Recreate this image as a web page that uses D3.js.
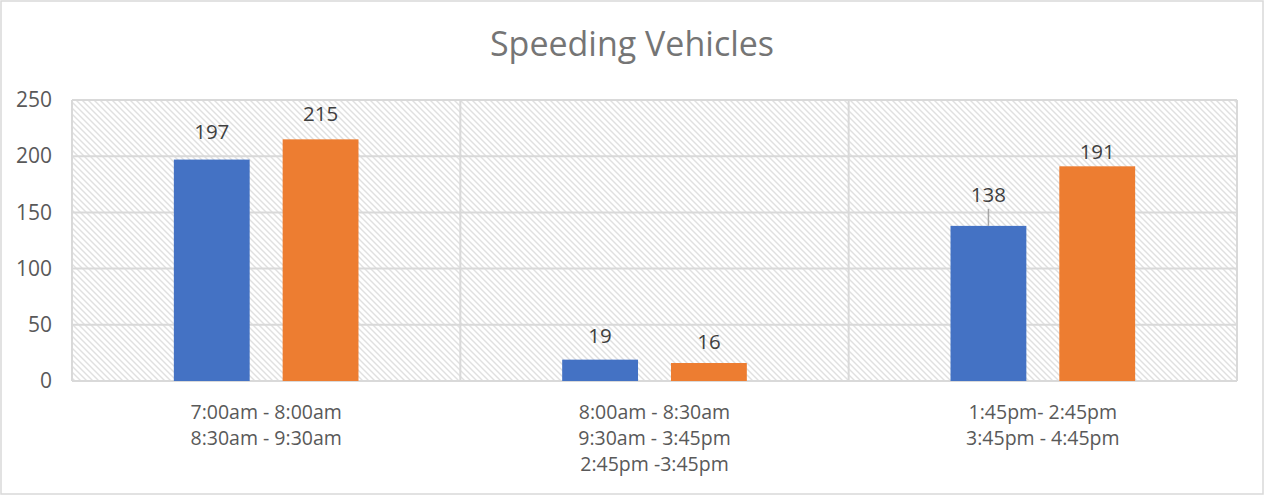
<!DOCTYPE html>
<html><head><meta charset="utf-8">
<script src="https://cdn.jsdelivr.net/npm/d3@7"></script>
<style>body{margin:0;background:#fff}svg{display:block}</style>
</head><body>
<svg id="chart" width="1264" height="495"></svg>
<script>
const title = "Speeding Vehicles";
const categories = [
  ["7:00am - 8:00am", "8:30am - 9:30am"],
  ["8:00am - 8:30am", "9:30am - 3:45pm", "2:45pm -3:45pm"],
  ["1:45pm- 2:45pm", "3:45pm - 4:45pm"]
];
const seriesA = [197, 19, 138];
const seriesB = [215, 16, 191];
const yTicks = [0, 50, 100, 150, 200, 250];
const labelLiftA = [28, 24, 31];
const labelLiftB = [26, 21, 14];

const W = 1264, H = 495;
const m = {l: 72, r: 27, t: 100, b: 114};
const FONT = "'Open Sans', sans-serif";
const svg = d3.select("#chart");
const defs = svg.append("defs");
const pat = defs.append("pattern").attr("id","hatch").attr("patternUnits","userSpaceOnUse")
  .attr("width",6).attr("height",6);
pat.append("rect").attr("width",6).attr("height",6).attr("fill","#fff");
pat.append("path").attr("d","M-1,-1 L7,7 M-1,5 L1,7 M5,-1 L7,1").attr("stroke","#e0e0e0").attr("stroke-width",1.4);

svg.append("rect").attr("x",1).attr("y",1).attr("width",W-2).attr("height",H-2)
  .attr("fill","#fff").attr("stroke","#d9d9d9").attr("stroke-width",1.5);

const x0 = d3.scaleBand().domain(d3.range(categories.length)).range([m.l, W-m.r]);
const x1 = d3.scaleBand().domain(["A","B"]).range([0, x0.bandwidth()]).paddingInner(0.303).paddingOuter(0.936);
const y = d3.scaleLinear().domain([0,250]).range([H-m.b, m.t]);

svg.append("rect").attr("x",m.l).attr("y",m.t).attr("width",W-m.r-m.l).attr("height",H-m.b-m.t).attr("fill","url(#hatch)");

svg.append("g").selectAll("line").data(yTicks).join("line")
  .attr("x1",m.l).attr("x2",W-m.r).attr("y1",d=>y(d)).attr("y2",d=>y(d))
  .attr("stroke","#d9d9d9").attr("stroke-width",2);
const bounds = d3.range(categories.length+1).map(i => i<categories.length ? x0(i) : x0(i-1)+x0.bandwidth());
svg.append("g").selectAll("line").data(bounds).join("line")
  .attr("x1",d=>d).attr("x2",d=>d).attr("y1",m.t).attr("y2",H-m.b)
  .attr("stroke","#d9d9d9").attr("stroke-width",2);

const yAxis = d3.axisLeft(y).tickValues(yTicks).tickSize(0).tickPadding(20);
const ya = svg.append("g").attr("transform",`translate(${m.l},0)`).call(yAxis);
ya.select(".domain").remove();
ya.selectAll("text").attr("font-family",FONT).attr("font-size",21).attr("fill","#595959");

const xg = svg.append("g");
categories.forEach((lines,i)=>{
  const cx = x0(i)+x0.bandwidth()/2;
  const t = xg.append("text").attr("x", cx).attr("y", 419)
    .attr("text-anchor","middle").attr("font-family",FONT).attr("font-size",19.5).attr("fill","#595959");
  lines.forEach((s,j)=>t.append("tspan").attr("x",cx).attr("dy", j===0?0:26).text(s));
});

const colors = {A:"#4472C4", B:"#ED7D31"};
const data = [];
categories.forEach((c,i)=>{
  data.push({i, k:"A", v:seriesA[i], lift:labelLiftA[i]});
  data.push({i, k:"B", v:seriesB[i], lift:labelLiftB[i]});
});
svg.append("g").selectAll("rect").data(data).join("rect")
  .attr("x",d=>x0(d.i)+x1(d.k)).attr("width",x1.bandwidth())
  .attr("y",d=>y(d.v)).attr("height",d=>y(0)-y(d.v)).attr("fill",d=>colors[d.k]);

const lead = data.filter(d=>d.lift>30);
svg.append("g").selectAll("line").data(lead).join("line")
  .attr("x1",d=>x0(d.i)+x1(d.k)+x1.bandwidth()/2).attr("x2",d=>x0(d.i)+x1(d.k)+x1.bandwidth()/2)
  .attr("y1",d=>y(d.v)).attr("y2",d=>y(d.v)-d.lift+14).attr("stroke","#a6a6a6").attr("stroke-width",1.5);

svg.append("g").selectAll("text").data(data).join("text")
  .attr("x",d=>x0(d.i)+x1(d.k)+x1.bandwidth()/2).attr("y",d=>y(d.v)-d.lift)
  .attr("dy","0.35em").attr("text-anchor","middle")
  .attr("font-family",FONT).attr("font-size",20.5).attr("fill","#404040")
  .text(d=>d.v);

svg.append("text").attr("x",W/2).attr("y",44).attr("dy","0.35em").attr("text-anchor","middle")
  .attr("font-family",FONT).attr("font-size",34).attr("fill","#757575").text(title);
</script>
</body></html>
